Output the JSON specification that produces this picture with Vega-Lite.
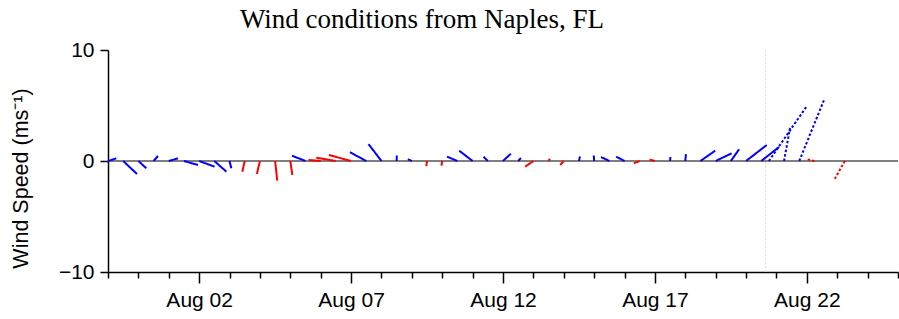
{
  "$schema": "https://vega.github.io/schema/vega-lite/v6.json",
  "autosize": {"type": "none"},
  "padding": {"left": 108, "top": 50, "right": 1, "bottom": 47},
  "width": 790,
  "height": 222,
  "title": {"text": "Wind conditions from Naples, FL", "font": "Liberation Serif", "fontSize": 27, "fontWeight": "normal", "color": "black", "dx": -81, "offset": 5},
  "datasets": {
    "now": [{"t": "2020-08-20T15:30Z"}],
    "zero": [{"v": 0}],
    "sticks": [
      {"t": "2020-07-30T00:00Z", "t2": "2020-07-30T06:36Z", "v0": 0, "v": 0.24, "c": "b", "k": "obs"},
      {"t": "2020-07-30T12:00Z", "t2": "2020-07-30T22:54Z", "v0": 0, "v": -1.17, "c": "b", "k": "obs"},
      {"t": "2020-07-31T00:00Z", "t2": "2020-07-31T06:18Z", "v0": 0, "v": -0.66, "c": "b", "k": "obs"},
      {"t": "2020-07-31T12:00Z", "t2": "2020-07-31T15:30Z", "v0": 0, "v": 0.45, "c": "b", "k": "obs"},
      {"t": "2020-08-01T00:00Z", "t2": "2020-08-01T07:18Z", "v0": 0, "v": 0.24, "c": "b", "k": "obs"},
      {"t": "2020-08-01T12:00Z", "t2": "2020-08-01T23:06Z", "v0": 0, "v": -0.36, "c": "b", "k": "obs"},
      {"t": "2020-08-02T00:00Z", "t2": "2020-08-02T12:12Z", "v0": 0, "v": -0.51, "c": "b", "k": "obs"},
      {"t": "2020-08-02T12:00Z", "t2": "2020-08-02T21:30Z", "v0": 0, "v": -0.96, "c": "b", "k": "obs"},
      {"t": "2020-08-03T00:00Z", "t2": "2020-08-03T01:24Z", "v0": 0, "v": -0.66, "c": "b", "k": "obs"},
      {"t": "2020-08-03T12:00Z", "t2": "2020-08-03T10:06Z", "v0": 0, "v": -0.96, "c": "r", "k": "obs"},
      {"t": "2020-08-04T00:00Z", "t2": "2020-08-03T21:36Z", "v0": 0, "v": -1.17, "c": "r", "k": "obs"},
      {"t": "2020-08-04T12:00Z", "t2": "2020-08-04T13:42Z", "v0": 0, "v": -1.77, "c": "r", "k": "obs"},
      {"t": "2020-08-05T00:00Z", "t2": "2020-08-05T01:36Z", "v0": 0, "v": -1.26, "c": "r", "k": "obs"},
      {"t": "2020-08-05T12:00Z", "t2": "2020-08-05T01:18Z", "v0": 0, "v": 0.48, "c": "b", "k": "obs"},
      {"t": "2020-08-06T00:00Z", "t2": "2020-08-05T14:24Z", "v0": 0, "v": 0.09, "c": "r", "k": "obs"},
      {"t": "2020-08-06T12:00Z", "t2": "2020-08-05T20:30Z", "v0": 0, "v": 0.3, "c": "r", "k": "obs"},
      {"t": "2020-08-07T00:00Z", "t2": "2020-08-06T06:30Z", "v0": 0, "v": 0.54, "c": "r", "k": "obs"},
      {"t": "2020-08-07T12:00Z", "t2": "2020-08-06T23:06Z", "v0": 0, "v": 0.79, "c": "b", "k": "obs"},
      {"t": "2020-08-08T00:00Z", "t2": "2020-08-07T13:48Z", "v0": 0, "v": 1.52, "c": "b", "k": "obs"},
      {"t": "2020-08-08T12:00Z", "t2": "2020-08-08T12:06Z", "v0": 0, "v": 0.5, "c": "b", "k": "obs"},
      {"t": "2020-08-09T00:00Z", "t2": "2020-08-08T20:48Z", "v0": 0, "v": 0.16, "c": "b", "k": "obs"},
      {"t": "2020-08-09T12:00Z", "t2": "2020-08-09T11:24Z", "v0": 0, "v": -0.46, "c": "r", "k": "obs"},
      {"t": "2020-08-10T00:00Z", "t2": "2020-08-09T23:24Z", "v0": 0, "v": -0.42, "c": "r", "k": "obs"},
      {"t": "2020-08-10T12:00Z", "t2": "2020-08-10T03:48Z", "v0": 0, "v": 0.39, "c": "b", "k": "obs"},
      {"t": "2020-08-11T00:00Z", "t2": "2020-08-10T13:24Z", "v0": 0, "v": 0.93, "c": "b", "k": "obs"},
      {"t": "2020-08-11T12:00Z", "t2": "2020-08-11T08:36Z", "v0": 0, "v": 0.39, "c": "b", "k": "obs"},
      {"t": "2020-08-12T00:00Z", "t2": "2020-08-12T06:12Z", "v0": 0, "v": 0.66, "c": "b", "k": "obs"},
      {"t": "2020-08-12T12:00Z", "t2": "2020-08-12T14:12Z", "v0": 0, "v": 0.27, "c": "b", "k": "obs"},
      {"t": "2020-08-13T00:00Z", "t2": "2020-08-12T17:30Z", "v0": 0, "v": -0.51, "c": "r", "k": "obs"},
      {"t": "2020-08-13T12:00Z", "t2": "2020-08-13T13:06Z", "v0": 0, "v": 0.2, "c": "r", "k": "obs"},
      {"t": "2020-08-14T00:00Z", "t2": "2020-08-13T21:12Z", "v0": 0, "v": -0.36, "c": "r", "k": "obs"},
      {"t": "2020-08-14T12:00Z", "t2": "2020-08-14T12:48Z", "v0": 0, "v": 0.4, "c": "b", "k": "obs"},
      {"t": "2020-08-15T00:00Z", "t2": "2020-08-14T23:42Z", "v0": 0, "v": 0.5, "c": "b", "k": "obs"},
      {"t": "2020-08-15T12:00Z", "t2": "2020-08-15T05:24Z", "v0": 0, "v": 0.36, "c": "b", "k": "obs"},
      {"t": "2020-08-16T00:00Z", "t2": "2020-08-15T17:24Z", "v0": 0, "v": 0.39, "c": "b", "k": "obs"},
      {"t": "2020-08-16T12:00Z", "t2": "2020-08-16T07:24Z", "v0": 0, "v": -0.2, "c": "r", "k": "obs"},
      {"t": "2020-08-17T00:00Z", "t2": "2020-08-16T19:42Z", "v0": 0, "v": 0.12, "c": "r", "k": "obs"},
      {"t": "2020-08-17T12:00Z", "t2": "2020-08-17T12:12Z", "v0": 0, "v": 0.36, "c": "b", "k": "obs"},
      {"t": "2020-08-18T00:00Z", "t2": "2020-08-18T00:30Z", "v0": 0, "v": 0.62, "c": "b", "k": "obs"},
      {"t": "2020-08-18T12:00Z", "t2": "2020-08-18T23:36Z", "v0": 0, "v": 0.93, "c": "b", "k": "obs"},
      {"t": "2020-08-19T00:00Z", "t2": "2020-08-19T12:36Z", "v0": 0, "v": 0.69, "c": "b", "k": "obs"},
      {"t": "2020-08-19T12:00Z", "t2": "2020-08-19T18:30Z", "v0": 0, "v": 1.06, "c": "b", "k": "obs"},
      {"t": "2020-08-20T00:00Z", "t2": "2020-08-20T16:18Z", "v0": 0, "v": 1.44, "c": "b", "k": "obs"},
      {"t": "2020-08-20T12:00Z", "t2": "2020-08-21T02:00Z", "v0": 0, "v": 1.26, "c": "b", "k": "obs"},
      {"t": "2020-08-20T18:00Z", "t2": "2020-08-21T23:54Z", "v0": 0, "v": 4.93, "c": "b", "k": "fc"},
      {"t": "2020-08-21T06:00Z", "t2": "2020-08-21T10:42Z", "v0": 0, "v": 2.97, "c": "b", "k": "fc"},
      {"t": "2020-08-21T18:00Z", "t2": "2020-08-22T13:48Z", "v0": 0, "v": 5.56, "c": "b", "k": "fc"},
      {"t": "2020-08-22T06:00Z", "t2": "2020-08-21T23:24Z", "v0": 0, "v": 0.18, "c": "r", "k": "fc"},
      {"t": "2020-08-23T06:00Z", "t2": "2020-08-22T21:42Z", "v0": 0, "v": -1.68, "c": "r", "k": "fc"}
    ]
  },
  "layer": [
    {
      "data": {"name": "now"},
      "mark": {"type": "rule", "color": "#dcdcdc", "strokeWidth": 1, "strokeDash": [2, 2]},
      "encoding": {
        "x": {
          "field": "t", "type": "temporal",
          "scale": {"type": "utc", "domain": ["2020-07-30T00:00Z", "2020-08-25T00:00Z"]},
          "axis": {
            "orient": "bottom", "title": null, "domain": true, "grid": false,
            "tickSize": {"condition": {"test": "indexof([2,7,12,17,22], utcdate(datum.value)) >= 0", "value": 11}, "value": 6},
            "labelPadding": 6,
            "labelExpr": "indexof([2,7,12,17,22], utcdate(datum.value)) >= 0 ? utcFormat(datum.value, '%b %d') : ''",
            "tickCount": {"interval": "day", "step": 1}
          }
        }
      }
    },
    {
      "data": {"name": "zero"},
      "mark": {"type": "rule", "color": "#555555", "strokeWidth": 1.5},
      "encoding": {"y": {"field": "v", "type": "quantitative"}}
    },
    {
      "data": {"name": "sticks"},
      "mark": {"type": "rule", "strokeWidth": 2},
      "encoding": {
        "x": {"field": "t", "type": "temporal"},
        "x2": {"field": "t2"},
        "y": {"field": "v0", "type": "quantitative", "scale": {"domain": [-10, 10]},
          "axis": {"title": "Wind Speed (ms⁻¹)", "values": [-10, 0, 10], "tickSize": 8, "labelPadding": 6, "titlePadding": 26, "titleY": 128, "titleFontSize": 21.5, "grid": false}},
        "y2": {"field": "v"},
        "color": {"field": "c", "type": "nominal", "scale": {"domain": ["b", "r"], "range": ["#0000ff", "#ff0000"]}, "legend": null},
        "strokeDash": {"field": "k", "type": "nominal", "scale": {"domain": ["obs", "fc"], "range": [[1, 0], [2.5, 2]]}, "legend": null}
      }
    }
  ],
  "config": {
    "view": {"stroke": null},
    "axis": {
      "domainColor": "black", "tickColor": "black", "labelColor": "black", "titleColor": "black",
      "labelFont": "Liberation Sans", "titleFont": "Liberation Sans", "labelFontSize": 21, "titleFontSize": 21,
      "titleFontWeight": "normal", "domainWidth": 1.5, "tickWidth": 1.5
    }
  }
}
